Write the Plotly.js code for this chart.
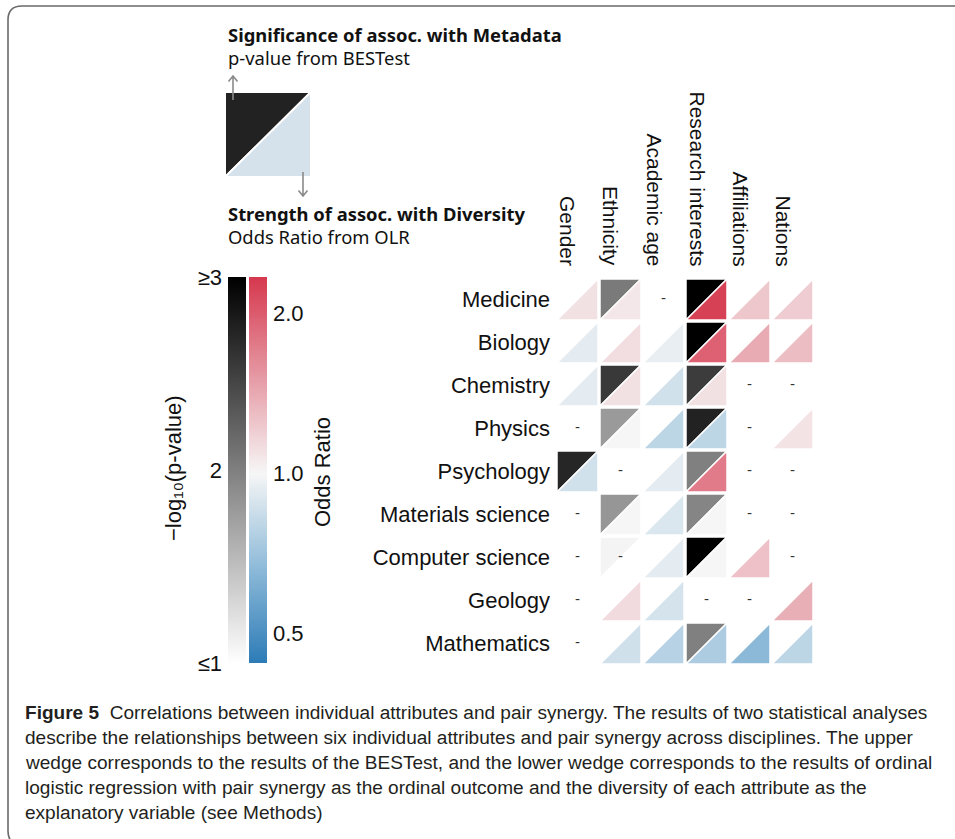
<!DOCTYPE html>
<html><head><meta charset="utf-8">
<script src="https://cdn.plot.ly/plotly-3.0.1.min.js"></script>
<style>html,body{margin:0;padding:0;background:#fff;} #chart{width:955px;height:839px;}</style>
</head><body><div id="chart"></div>
<script>
// ---------------- DATA ----------------
const disciplines = ["Medicine","Biology","Chemistry","Physics","Psychology","Materials science","Computer science","Geology","Mathematics"];
const attributes = ["Gender","Ethnicity","Academic age","Research interests","Affiliations","Nations"];

// -log10(p-value) from BESTest (upper wedge); null = not significant (<=1, drawn white)
const logP_gender      = [null, null, null, null, 2.70, null, null, null, null];
const logP_ethnicity   = [2.04, null, 2.55, 1.79, null, 1.82, 1.09, null, null];
const logP_academicAge = [null, null, null, null, null, null, null, null, null];
const logP_research    = [3.00, 3.00, 2.53, 2.73, 2.00, 1.96, 3.00, null, 2.00];
const logP_affiliations= [null, null, null, null, null, null, null, null, null];
const logP_nations     = [null, null, null, null, null, null, null, null, null];

// Odds ratio from OLR (lower wedge); null = not available (drawn as "-")
const or_gender        = [1.10, 0.93, 0.93, null, 0.865, null, null, null, null];
const or_ethnicity     = [1.07, 1.12, 1.10, 1.00, null, 1.00, null, 1.13, 0.86];
const or_academicAge   = [null, 0.945, 0.865, 0.80, 0.93, 0.90, 0.93, 0.875, 0.78];
const or_research      = [2.25, 1.95, 1.10, 0.80, 1.74, 1.00, 1.00, null, 0.75];
const or_affiliations  = [1.24, 1.41, null, null, null, null, 1.27, null, 0.66];
const or_nations       = [1.21, 1.29, null, 1.09, null, null, null, 1.38, 0.80];

const pTickVals = [1, 2, 3];
const pTickText = ["≤1", "2", "≥3"];
const orTickVals = [0.5, 1.0, 2.0];
const orTickText = ["0.5", "1.0", "2.0"];

const captionLines = [
  "Correlations between individual attributes and pair synergy. The results of two statistical analyses",
  "describe the relationships between six individual attributes and pair synergy across disciplines. The upper",
  "wedge corresponds to the results of the BESTest, and the lower wedge corresponds to the results of ordinal",
  "logistic regression with pair synergy as the ordinal outcome and the diversity of each attribute as the",
  "explanatory variable (see Methods)"
];

// ---------------- STYLE / LAYOUT HELPERS ----------------
const logPCols = [logP_gender, logP_ethnicity, logP_academicAge, logP_research, logP_affiliations, logP_nations];
const orCols = [or_gender, or_ethnicity, or_academicAge, or_research, or_affiliations, or_nations];

const W = 955, H = 839;
const px = x => x / W, py = y => 1 - y / H;
const orLo = -1.1875, orHi = 1.225;   // colour bar range, log2(OR)
const pLo = 1, pHi = 3;

const greyScale = [[0, '#ffffff'], [1, '#000000']];
const orScale = [[0, '#2c7bb6'], [0.25, '#8fbbd9'], [0.492, '#f6f6f6'], [0.75, '#e597a2'], [1, '#d6384e']];

function hex(h) { return [1, 3, 5].map(k => parseInt(h.substr(k, 2), 16)); }
function interp(scale, t) {
  t = Math.max(0, Math.min(1, t));
  for (let k = 1; k < scale.length; k++) {
    if (t <= scale[k][0]) {
      const a = scale[k - 1], b = scale[k];
      const f = (t - a[0]) / (b[0] - a[0]);
      const ca = hex(a[1]), cb = hex(b[1]);
      return 'rgb(' + ca.map((v, i) => Math.round(v + (cb[i] - v) * f)).join(',') + ')';
    }
  }
  return scale[scale.length - 1][1];
}
const greyColor = v => interp(greyScale, (Math.min(v, pHi) - pLo) / (pHi - pLo));
const orColor = r => interp(orScale, (Math.log2(r) - orLo) / (orHi - orLo));

const LBL = "Liberation Sans, Arial, Helvetica, sans-serif";
const HEAD = "Noto Sans, Open Sans, sans-serif";

const traces = [];
const h = 0.5 - 1 / 43;
const dashX = [], dashY = [];
attributes.forEach((att, i) => {
  disciplines.forEach((d, j) => {
    const v = logPCols[i][j];
    const r = orCols[i][j];
    if (v !== null) {
      traces.push({type: 'scatter', mode: 'lines', x: [i - h, i + h, i - h, i - h], y: [j - h, j - h, j + h, j - h],
        fill: 'toself', fillcolor: greyColor(v), line: {color: '#ffffff', width: 1.5}, hoverinfo: 'skip', showlegend: false});
    }
    if (r !== null) {
      traces.push({type: 'scatter', mode: 'lines', x: [i + h, i + h, i - h, i + h], y: [j - h, j + h, j + h, j - h],
        fill: 'toself', fillcolor: orColor(r), line: {color: '#ffffff', width: 1.5}, hoverinfo: 'skip', showlegend: false});
    } else {
      dashX.push(i); dashY.push(j);
    }
  });
});
traces.push({type: 'scatter', mode: 'text', x: dashX, y: dashY, text: dashX.map(() => '-'),
  textfont: {family: LBL, size: 15, color: '#333'}, hoverinfo: 'skip', showlegend: false});

// colour bars
const pY = [], orY = [];
for (let k = 0; k <= 100; k++) { pY.push(pLo + (pHi - pLo) * k / 100); orY.push(orLo + (orHi - orLo) * k / 100); }
traces.push({type: 'heatmap', x: [0], y: pY, z: pY.map(v => [v]), zmin: pLo, zmax: pHi, colorscale: greyScale,
  showscale: false, zsmooth: 'best', xaxis: 'x2', yaxis: 'y2', hoverinfo: 'skip'});
traces.push({type: 'heatmap', x: [0], y: orY, z: orY.map(v => [v]), zmin: orLo, zmax: orHi, colorscale: orScale,
  showscale: false, zsmooth: 'best', xaxis: 'x3', yaxis: 'y3', hoverinfo: 'skip'});

// caption font size fitted to the reference line width
const CAP = "Liberation Sans Narrow, Liberation Sans, sans-serif";
const ctx = document.createElement('canvas').getContext('2d');
ctx.font = 'bold 100px ' + CAP; let wB = ctx.measureText('Figure 5\u00a0 ').width;
ctx.font = '100px ' + CAP; let wR = ctx.measureText(captionLines[0]).width;
const capSize = Math.min(20, 100 * 903 / (wB + wR));

const annotations = [];
attributes.forEach((att, i) => {
  annotations.push({text: att, xref: 'x', yref: 'paper', x: i - 0.22, y: py(268), xanchor: 'center', yanchor: 'bottom',
    textangle: 90, showarrow: false, font: {family: LBL, size: 21, color: '#111'}});
});
annotations.push({text: '−log₁₀(p-value)', xref: 'paper', yref: 'paper', x: px(173), y: py(468),
  xanchor: 'center', yanchor: 'middle', textangle: -90, showarrow: false, font: {family: LBL, size: 22, color: '#111'}});
annotations.push({text: 'Odds Ratio', xref: 'paper', yref: 'paper', x: px(322), y: py(472),
  xanchor: 'center', yanchor: 'middle', textangle: -90, showarrow: false, font: {family: LBL, size: 22, color: '#111'}});
// schematic texts
[['<b>Significance of assoc. with Metadata</b>', 35], ['p-value from BESTest', 57],
 ['<b>Strength of assoc. with Diversity</b>', 213], ['Odds Ratio from OLR', 236]].forEach(([t, y]) => {
  annotations.push({text: t, xref: 'paper', yref: 'paper', x: px(226), y: py(y), xanchor: 'left', yanchor: 'middle',
    showarrow: false, font: {family: HEAD, size: 18.4, color: '#111'}});
});
// caption
captionLines.forEach((t, k) => {
  annotations.push({text: (k === 0 ? '<b>Figure 5</b>\u00a0 ' : '') + t, xref: 'paper', yref: 'paper', x: px(23),
    y: py(712 + 25 * k), xanchor: 'left', yanchor: 'middle', align: 'left', showarrow: false,
    font: {family: CAP, size: capSize, color: '#231f20'}});
});

const arrowLine = {color: '#8a8a8a', width: 1.6};
const shapes = [
  {type: 'path', xref: 'paper', yref: 'paper', layer: 'below',
   path: `M${px(975)},${py(845)} L${px(22)},${py(845)} Q${px(8)},${py(845)} ${px(8)},${py(831)} L${px(8)},${py(20)} Q${px(8)},${py(6)} ${px(22)},${py(6)} L${px(975)},${py(6)}`,
   line: {color: '#6a6a6a', width: 1.6}},
  {type: 'path', xref: 'paper', yref: 'paper',
   path: `M${px(225)},${py(92)} L${px(311)},${py(92)} L${px(225)},${py(177)} Z`,
   fillcolor: '#222222', line: {color: '#ffffff', width: 2}},
  {type: 'path', xref: 'paper', yref: 'paper',
   path: `M${px(311)},${py(92)} L${px(311)},${py(177)} L${px(225)},${py(177)} Z`,
   fillcolor: '#d5e1eb', line: {color: '#ffffff', width: 2}},
  // legend arrows
  {type: 'path', xref: 'paper', yref: 'paper', line: arrowLine,
   path: `M${px(233)},${py(100)} L${px(233)},${py(76)} M${px(228.5)},${py(81.5)} L${px(233)},${py(76)} L${px(237.5)},${py(81.5)}`},
  {type: 'path', xref: 'paper', yref: 'paper', line: arrowLine,
   path: `M${px(303)},${py(172)} L${px(303)},${py(196)} M${px(298.5)},${py(190.5)} L${px(303)},${py(196)} L${px(307.5)},${py(190.5)}`}
];

const noAx = {showgrid: false, zeroline: false, showline: false, showticklabels: false, ticks: ''};
const layout = {
  width: W, height: H, margin: {l: 0, r: 0, t: 0, b: 0}, paper_bgcolor: '#fff', plot_bgcolor: 'rgba(0,0,0,0)',
  showlegend: false, hovermode: false,
  xaxis: Object.assign({}, noAx, {domain: [px(556), px(814)], range: [-0.5, 5.5], anchor: 'y'}),
  yaxis: {domain: [py(665), py(278)], range: [8.5, -0.5], anchor: 'x', tickvals: disciplines.map((d, j) => j),
    ticktext: disciplines, showgrid: false, zeroline: false, showline: false, ticks: '', ticklabelstandoff: 5,
    tickfont: {family: LBL, size: 22, color: '#111'}},
  xaxis2: Object.assign({}, noAx, {domain: [px(228), px(246)], range: [-0.5, 0.5], anchor: 'y2'}),
  yaxis2: {domain: [py(663), py(277)], range: [pLo, pHi], anchor: 'x2', side: 'left', tickvals: pTickVals,
    ticktext: pTickText, showgrid: false, zeroline: false, showline: false, ticks: '', ticklabelstandoff: 5,
    tickfont: {family: LBL, size: 22, color: '#111'}},
  xaxis3: Object.assign({}, noAx, {domain: [px(249), px(267)], range: [-0.5, 0.5], anchor: 'y3'}),
  yaxis3: {domain: [py(663), py(277)], range: [orLo, orHi], anchor: 'x3', side: 'right',
    tickvals: orTickVals.map(v => Math.log2(v)), ticktext: orTickText, showgrid: false, zeroline: false,
    showline: false, ticks: '', ticklabelstandoff: 5, tickfont: {family: LBL, size: 22, color: '#111'}},
  annotations: annotations, shapes: shapes
};
Plotly.newPlot('chart', traces, layout, {staticPlot: true, displayModeBar: false});
</script></body></html>
